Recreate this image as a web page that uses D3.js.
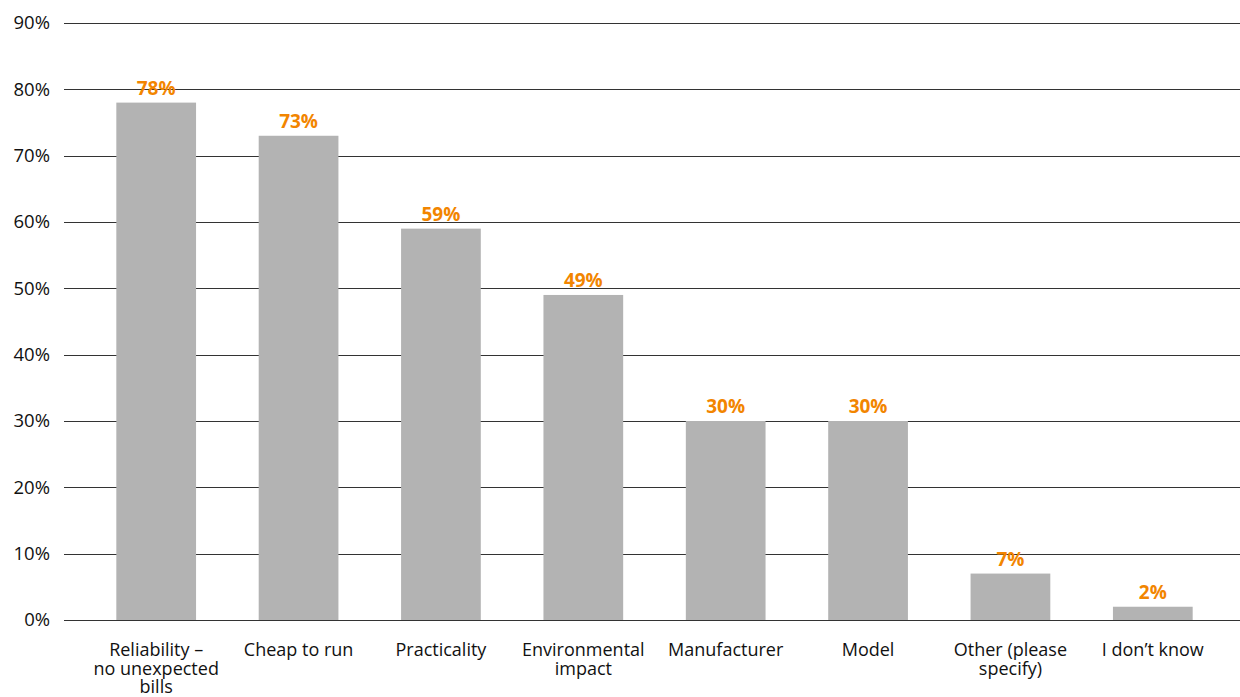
<!DOCTYPE html>
<html><head><meta charset="utf-8">
<script src="https://cdn.jsdelivr.net/npm/d3@7"></script>
<style>body{margin:0;background:#fff}svg{display:block}text{font-family:"Open Sans",sans-serif}</style>
</head><body>
<svg id="c" width="1240" height="697"></svg>
<script>
const categories = [["Reliability –","no unexpected","bills"],["Cheap to run"],["Practicality"],["Environmental","impact"],["Manufacturer"],["Model"],["Other (please","specify)"],["I don’t know"]];
const values = [78,73,59,49,30,30,7,2];
const yTicks = [0,10,20,30,40,50,60,70,80,90];

const svg = d3.select("#c");
const x = d3.scaleBand().domain(d3.range(categories.length)).range([85,1224]).paddingInner(0.44).paddingOuter(0.22);
const y = d3.scaleLinear().domain([0,90]).range([620,23]);

// gridlines
svg.append("g").selectAll("line").data(yTicks).join("line")
  .attr("x1",64).attr("x2",1240).attr("y1",d=>Math.round(y(d))+0.5).attr("y2",d=>Math.round(y(d))+0.5)
  .attr("stroke","#333").attr("stroke-width",1);
// y labels
svg.append("g").selectAll("text").data(yTicks).join("text")
  .attr("x",50).attr("y",d=>y(d)).attr("dy","0.35em").attr("text-anchor","end")
  .attr("font-size",18.5).attr("fill","#111").text(d=>d+"%");
// bars
svg.append("g").selectAll("rect").data(values).join("rect")
  .attr("x",(d,i)=>x(i)).attr("width",x.bandwidth())
  .attr("y",d=>y(d)).attr("height",d=>y(0)-y(d)).attr("fill","#b3b3b3");
// value labels
svg.append("g").selectAll("text").data(values).join("text")
  .attr("x",(d,i)=>x(i)+x.bandwidth()/2).attr("y",d=>y(d)-8)
  .attr("text-anchor","middle").attr("font-size",19).attr("font-weight","bold").attr("fill","#f28500")
  .text(d=>d+"%");
// x labels
const xl = svg.append("g").selectAll("text").data(categories).join("text")
  .attr("x",(d,i)=>x(i)+x.bandwidth()/2).attr("y",656)
  .attr("text-anchor","middle").attr("font-size",18).attr("fill","#111");
xl.selectAll("tspan").data(d=>d).join("tspan")
  .attr("x",function(){return this.parentNode.getAttribute("x");})
  .attr("dy",(d,i)=>i===0?0:"1.03em").text(d=>d);
</script>
</body></html>
